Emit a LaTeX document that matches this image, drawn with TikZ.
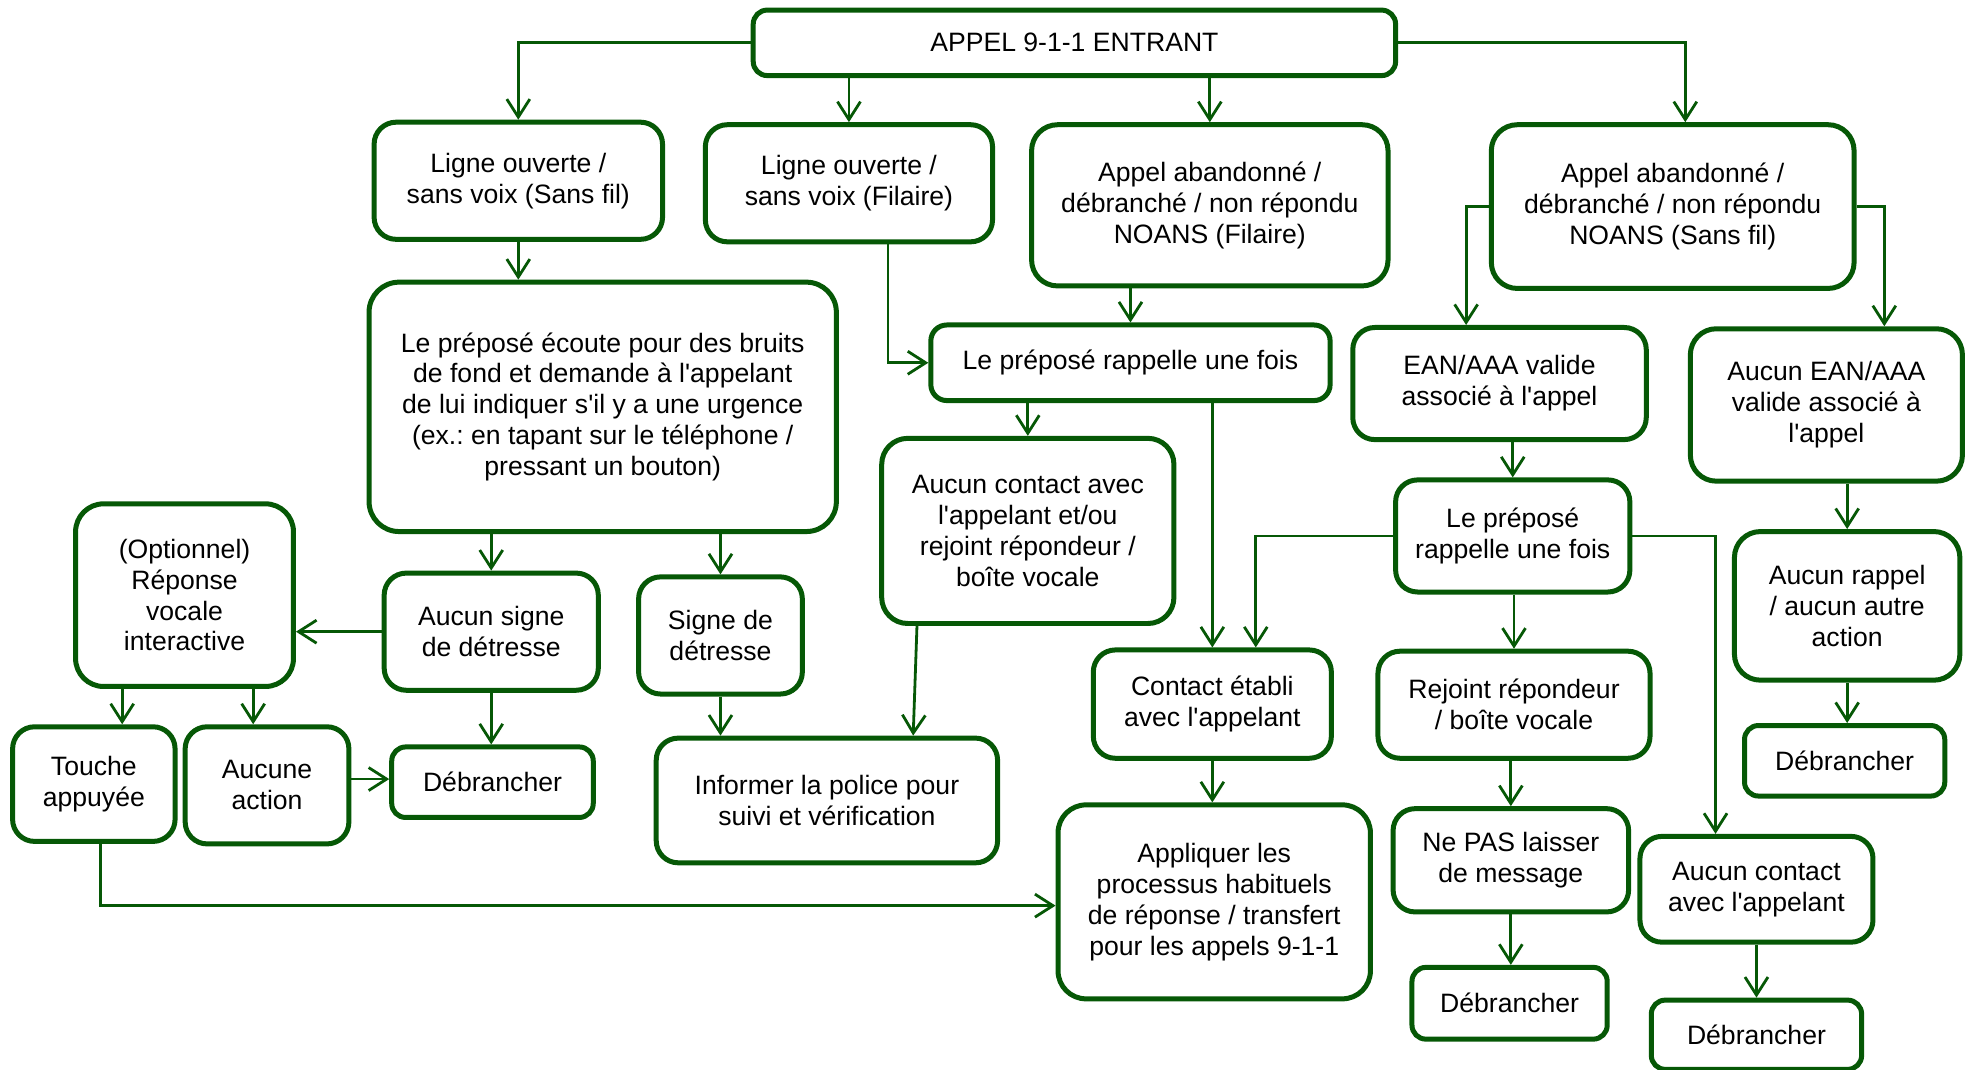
\documentclass[tikz,border=0pt]{standalone}
\usepackage{fontspec}
\setmainfont{Liberation Sans}
\usetikzlibrary{arrows.meta}

\definecolor{vert}{RGB}{6,88,6}
\newcommand{\ap}{\textquotesingle}
\frenchspacing

% one unit = one pixel of the drawing
\def \u {0.63pt}

\tikzset{
	boite/.style={draw=vert, line width=2.5pt, rounded corners=#1, fill=white,
		align=center, inner sep=0pt, font=\fontsize{13.3}{15.45}\selectfont},
	boite/.default=11pt,
	taille/.style 2 args={minimum width={#1*\u}, minimum height={#2*\u}},
	fleche/.style={draw=vert, line width=1.4pt, -{Straight Barb[length=9pt,width=11.5pt]}},
}

\begin{document}
\begin{tikzpicture}[x=\u, y=-\u]

	\useasboundingbox (0,0) rectangle (1568,849);

	% first row
	\node [boite=7pt, taille={510}{52}] (entrant) at (853,34) {APPEL 9-1-1 ENTRANT};
	\node [boite, taille={229}{93}] (ouvSF) at (411.5,143.5) {Ligne ouverte /\\sans voix (Sans fil)};
	\node [boite, taille={228}{93}] (ouvFil) at (674,145.5) {Ligne ouverte /\\sans voix (Filaire)};
	\node [boite=13pt, taille={283}{128}] (abFil) at (960.5,163) {Appel abandonné /\\débranché / non répondu\\NOANS (Filaire)};
	\node [boite=13pt, taille={288}{130}] (abSF) at (1328,164) {Appel abandonné /\\débranché / non répondu\\NOANS (Sans fil)};

	% left branch
	\node [boite=15pt, taille={371}{198}] (ecoute) at (478.5,323) {Le préposé écoute pour des bruits\\de fond et demande à l\ap appelant\\de lui indiquer s\ap il y a une urgence\\(ex.: en tapant sur le téléphone /\\pressant un bouton)};
	\node [boite=14pt, taille={173}{145}] (vocale) at (146.5,472.5) {(Optionnel)\\Réponse\\vocale\\interactive};
	\node [boite, taille={170}{93}] (sansSigne) at (390,501.5) {Aucun signe\\de détresse};
	\node [boite, taille={130}{93}] (signe) at (572,504.5) {Signe de\\détresse};
	\node [boite, taille={129}{91}] (touche) at (74.5,622.5) {Touche\\appuyée};
	\node [boite, taille={130}{93}] (rienFait) at (212,623.5) {Aucune\\action};
	\node [boite=7pt, taille={160}{56}] (debA) at (391,621) {Débrancher};
	\node [boite, taille={271}{99}] (police) at (656.5,635.5) {Informer la police pour\\suivi et vérification};

	% middle branch
	\node [boite=8pt, taille={317}{60}] (rappelA) at (897.5,288) {Le préposé rappelle une fois};
	\node [boite=13pt, taille={232}{147}] (sansContactA) at (816,421.5) {Aucun contact avec\\l\ap appelant et/ou\\rejoint répondeur /\\boîte vocale};
	\node [boite, taille={189}{86}] (contact) at (962.5,559) {Contact établi\\avec l\ap appelant};
	\node [boite=14pt, taille={248}{154}] (appliquer) at (964,716) {Appliquer les\\processus habituels\\de réponse / transfert\\pour les appels 9-1-1};

	% right branch
	\node [boite, taille={233}{89}] (ean) at (1190.5,304.5) {EAN/AAA valide\\associé à l\ap appel};
	\node [boite=13pt, taille={216}{121}] (sansEan) at (1450,321.5) {Aucun EAN/AAA\\valide associé à\\l\ap appel};
	\node [boite, taille={186}{89}] (rappelB) at (1201,425.5) {Le préposé\\rappelle une fois};
	\node [boite=13pt, taille={179}{118}] (sansRappel) at (1466.5,481) {Aucun rappel\\/ aucun autre\\action};
	\node [boite, taille={216}{85}] (repondeur) at (1202,559.5) {Rejoint répondeur\\/ boîte vocale};
	\node [boite=7pt, taille={159}{56}] (debD) at (1464.5,604) {Débrancher};
	\node [boite, taille={187}{82}] (message) at (1199.5,683) {Ne PAS laisser\\de message};
	\node [boite, taille={185}{84}] (sansContactB) at (1394.5,706) {Aucun contact\\avec l\ap appelant};
	\node [boite=7pt, taille={155}{57}] (debB) at (1198.5,796.5) {Débrancher};
	\node [boite=7pt, taille={167}{55}] (debC) at (1394.5,821.5) {Débrancher};

	% arrows from the incoming call
	\draw [fleche] (entrant.west) -| (ouvSF.north);
	\draw [fleche] (ouvFil.north |- entrant.south) -- (ouvFil.north);
	\draw [fleche] (abFil.north |- entrant.south) -- (abFil.north);
	\draw [fleche] (entrant.east) -| ([shift={(10,0)}]abSF.north);

	% left
	\draw [fleche] (ouvSF.south) -- (ouvSF.south |- ecoute.north);
	\draw [fleche] (sansSigne.north |- ecoute.south) -- (sansSigne.north);
	\draw [fleche] (signe.north |- ecoute.south) -- (signe.north);
	\draw [fleche] (sansSigne.west) -- (sansSigne.west -| vocale.east);
	\draw [fleche] (sansSigne.south) -- (sansSigne.south |- debA.north);
	\draw [fleche] (signe.south) -- (signe.south |- police.north);
	\draw [fleche] ([shift={(-49.5,0)}]vocale.south) -- ([shift={(-49.5,0)}]vocale.south |- touche.north);
	\draw [fleche] ([shift={(54.5,0)}]vocale.south) -- ([shift={(54.5,0)}]vocale.south |- rienFait.north);
	\draw [fleche] ([shift={(0,-5)}]rienFait.east) -- ([shift={(0,-5)}]rienFait.east -| debA.west);
	\draw [fleche] ([shift={(5.5,0)}]touche.south) |- ([shift={(0,3)}]appliquer.west);

	% middle
	\draw [fleche] ([shift={(31,0)}]ouvFil.south) |- (rappelA.west);
	\draw [fleche] (rappelA.north |- abFil.south) -- (rappelA.north);
	\draw [fleche] (sansContactA.north |- rappelA.south) -- (sansContactA.north);
	\draw [fleche] (contact.north |- rappelA.south) -- (contact.north);
	\draw [fleche] ([shift={(-88,0)}]sansContactA.south) -- ([shift={(68.5,0)}]police.north);
	\draw [fleche] (contact.south) -- (contact.south |- appliquer.north);

	% right
	\draw [fleche] (abSF.west) -| ([shift={(-26.5,0)}]ean.north);
	\draw [fleche] (abSF.east) -| ([shift={(46,0)}]sansEan.north);
	\draw [fleche] (rappelB.north |- ean.south) -- (rappelB.north);
	\draw [fleche] (sansRappel.north |- sansEan.south) -- (sansRappel.north);
	\draw [fleche] (rappelB.west) -| ([shift={(34.5,0)}]contact.north);
	\draw [fleche] (repondeur.north |- rappelB.south) -- (repondeur.north);
	\draw [fleche] (rappelB.east) -| ([shift={(-32.5,0)}]sansContactB.north);
	\draw [fleche] (sansRappel.south) -- (sansRappel.south |- debD.north);
	\draw [fleche] (message.north |- repondeur.south) -- (message.north);
	\draw [fleche] (message.south) -- (message.south |- debB.north);
	\draw [fleche] (sansContactB.south) -- (sansContactB.south |- debC.north);

\end{tikzpicture}
\end{document}
